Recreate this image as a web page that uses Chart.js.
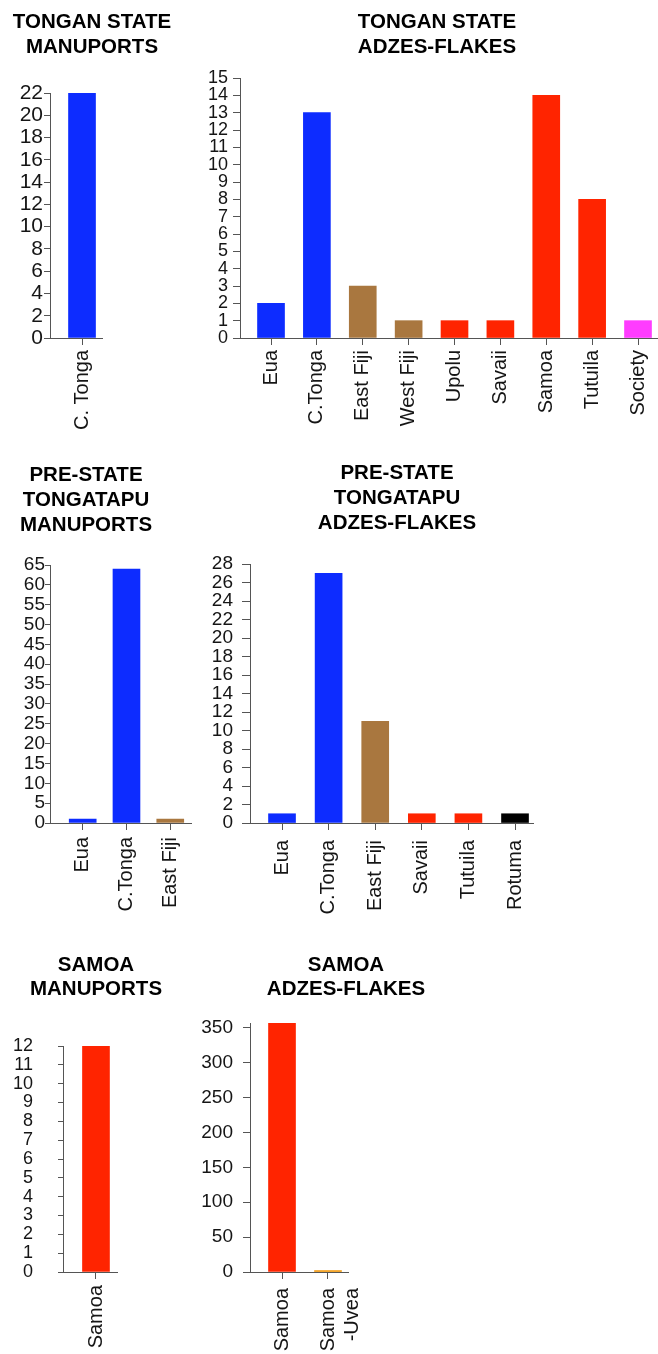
<!DOCTYPE html>
<html>
<head>
<meta charset="utf-8">
<title>Manuports and adzes-flakes by source</title>
<script src="https://cdn.jsdelivr.net/npm/chart.js@4.4.1/dist/chart.umd.min.js"></script>
<style>
  html, body { margin: 0; padding: 0; background: #fff; overflow: hidden; }
  #stage { position: relative; width: 658px; height: 1354px; overflow: hidden; background: #fff; }
  #stage canvas { position: absolute; }
</style>
</head>
<body>
<div id="stage"></div>
<script>
// Counts of stone artefacts by source island
const stateManuportLabels = ['C. Tonga'];
const stateManuportCounts = [22];

const stateAdzeLabels = ['Eua', 'C.Tonga', 'East Fiji', 'West Fiji', 'Upolu', 'Savaii', 'Samoa', 'Tutuila', 'Society'];
const stateAdzeCounts = [2, 13, 3, 1, 1, 1, 14, 8, 1];

const preStateManuportLabels = ['Eua', 'C.Tonga', 'East Fiji'];
const preStateManuportCounts = [1, 64, 1];

const preStateAdzeLabels = ['Eua', 'C.Tonga', 'East Fiji', 'Savaii', 'Tutuila', 'Rotuma'];
const preStateAdzeCounts = [1, 27, 11, 1, 1, 1];

const samoaManuportLabels = ['Samoa'];
const samoaManuportCounts = [12];

const samoaAdzeLabels = ['Samoa', 'Samoa\n-Uvea'];
const samoaAdzeCounts = [357, 2];

// Bar colour by source region
const TONGA = '#0d2cff', FIJI = '#a9773f', SAMOA = '#ff2400',
      SOCIETY = '#ff3cff', ROTUMA = '#000000', UVEA = '#f29400';
const sourceColours = {
  'C. Tonga': TONGA, 'C.Tonga': TONGA, 'Eua': TONGA,
  'East Fiji': FIJI, 'West Fiji': FIJI,
  'Upolu': SAMOA, 'Savaii': SAMOA, 'Samoa': SAMOA, 'Tutuila': SAMOA,
  'Society': SOCIETY, 'Rotuma': ROTUMA, 'Samoa\n-Uvea': UVEA
};

const FONT = "'Liberation Sans', Arial, Helvetica, sans-serif";
const AXIS = '#555555';
const INK = '#151515';

// Panel placement on the page
const panels = [
  { title: ['TONGAN STATE', 'MANUPORTS'], labels: stateManuportLabels, counts: stateManuportCounts,
    left: 0, top: 0, width: 184, height: 440, axisW: 50, rightW: 82, xH: 102,
    titleTop: 9.5, titleBottom: 33.5, titleLH: 25,
    xMin: -0.711, xMax: 0.444, yMax: 22, step: 2, yFont: 21, yTick: 6, yPad: 1, xTick: 7, xPad: 5 },
  { title: ['TONGAN STATE', 'ADZES-FLAKES'], labels: stateAdzeLabels, counts: stateAdzeCounts,
    left: 200, top: 0, width: 474, height: 440, axisW: 40, rightW: 17, xH: 102,
    titleTop: 9.5, titleBottom: 18.5, titleLH: 25,
    xMin: -0.676, xMax: 8.414, yMax: 15, step: 1, yFont: 18, yTick: 7, yPad: 5, xTick: 7, xPad: 5 },
  { title: ['PRE-STATE', 'TONGATAPU', 'MANUPORTS'], labels: preStateManuportLabels, counts: preStateManuportCounts,
    left: -30, top: 440, width: 232, height: 500, axisW: 80, rightW: 5, xH: 117,
    titleTop: 22.5, titleBottom: 27.5, titleLH: 25,
    xMin: -0.747, xMax: 2.48, yMax: 65, step: 5, yFont: 19, yTick: 5, yPad: 0, xTick: 7, xPad: 7 },
  { title: ['PRE-STATE', 'TONGATAPU', 'ADZES-FLAKES'], labels: preStateAdzeLabels, counts: preStateAdzeCounts,
    left: 200, top: 440, width: 394, height: 500, axisW: 50, rightW: 61, xH: 117,
    titleTop: 20.5, titleBottom: 28.5, titleLH: 25,
    xMin: -0.687, xMax: 5.386, yMax: 28, step: 2, yFont: 19, yTick: 8, yPad: 9, xTick: 7, xPad: 10 },
  { title: ['SAMOA', 'MANUPORTS'], labels: samoaManuportLabels, counts: samoaManuportCounts,
    left: 0, top: 940, width: 192, height: 414, axisW: 63, rightW: 75, xH: 82,
    titleTop: 13, titleBottom: 45, titleLH: 24,
    xMin: -0.733, xMax: 0.467, yMax: 12, step: 1, yFont: 18, yTick: 5, yPad: 25, xTick: 7, xPad: 6 },
  { title: ['SAMOA', 'ADZES-FLAKES'], labels: samoaAdzeLabels, counts: samoaAdzeCounts,
    left: 200, top: 940, width: 292, height: 414, axisW: 50, rightW: 144, xH: 82,
    titleTop: 13, titleBottom: 22, titleLH: 24,
    xMin: -0.696, xMax: 1.435, yMax: 357, step: 50, yFont: 19, yTick: 7, yPad: 10, xTick: 7, xPad: 9 }
];

const stage = document.getElementById('stage');

function drawPanel(p) {
  const canvas = document.createElement('canvas');
  canvas.width = p.width;
  canvas.height = p.height;
  canvas.style.left = p.left + 'px';
  canvas.style.top = p.top + 'px';
  canvas.style.width = p.width + 'px';
  canvas.style.height = p.height + 'px';
  stage.appendChild(canvas);

  const points = p.counts.map((v, i) => ({ x: i, y: v }));

  new Chart(canvas, {
    type: 'bar',
    data: {
      datasets: [{
        data: points,
        backgroundColor: p.labels.map(l => sourceColours[l]),
        borderWidth: 0,
        barThickness: 27
      }]
    },
    options: {
      responsive: false,
      maintainAspectRatio: false,
      animation: false,
      layout: { padding: 0 },
      plugins: {
        legend: { display: false },
        tooltip: { enabled: false },
        title: {
          display: true,
          text: p.title,
          color: '#000',
          font: { family: FONT, size: 20.5, weight: 'bold', lineHeight: p.titleLH / 20.5 },
          padding: { top: p.titleTop, bottom: p.titleBottom }
        }
      },
      scales: {
        x: {
          type: 'linear',
          min: p.xMin,
          max: p.xMax,
          offset: false,
          // one tick per category, at the bar centres
          afterBuildTicks: s => {
            s.ticks = p.labels.map((_, i) => ({ value: i }));
          },
          afterFit: s => { s.height = p.xH; },
          ticks: {
            stepSize: 1,
            autoSkip: false,
            minRotation: 90,
            maxRotation: 90,
            padding: p.xPad,
            color: INK,
            font: { family: FONT, size: 20 },
            callback: v => {
              const l = p.labels[v];
              return l === undefined ? '' : l.split('\n');
            }
          },
          grid: { offset: false, drawOnChartArea: false, drawTicks: true, tickLength: p.xTick, color: AXIS, lineWidth: 1 },
          border: { display: true, color: AXIS, width: 1 }
        },
        y: {
          type: 'linear',
          min: 0,
          max: p.yMax,
          afterBuildTicks: s => {
            const list = [];
            for (let v = 0; v <= p.yMax; v += p.step) list.push({ value: v });
            s.ticks = list;
          },
          afterFit: s => { s.width = p.axisW; },
          ticks: {
            stepSize: p.step,
            autoSkip: false,
            padding: p.yPad,
            color: INK,
            font: { family: FONT, size: p.yFont }
          },
          grid: { drawOnChartArea: false, drawTicks: true, tickLength: p.yTick, color: AXIS, lineWidth: 1 },
          border: { display: true, color: AXIS, width: 1 }
        },
        yRight: {
          type: 'linear',
          axis: 'y',
          position: 'right',
          display: true,
          afterFit: s => { s.width = p.rightW; },
          ticks: { display: false },
          grid: { display: false, drawTicks: false },
          border: { display: false }
        }
      }
    }
  });
}

panels.forEach(drawPanel);
</script>
</body>
</html>
